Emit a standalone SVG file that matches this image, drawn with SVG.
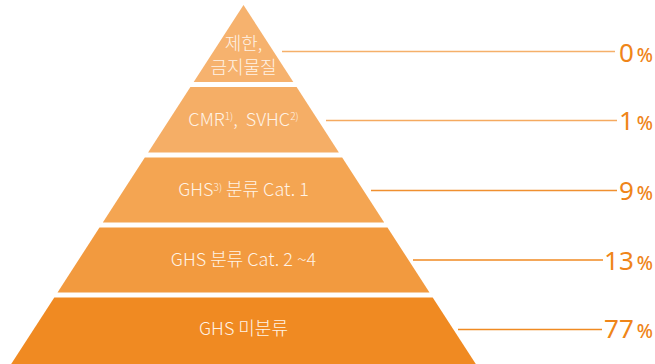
<svg xmlns="http://www.w3.org/2000/svg" width="655" height="364" viewBox="0 0 655 364">
  <style>
    .lbl { font-family: "Noto Sans CJK KR", "Noto Sans", sans-serif; font-size: 18px; font-weight: 300; fill: #FFF3E6; text-anchor: middle; }
    .sup { font-size: 10px; }
    .pct { font-family: "Noto Sans", "Liberation Sans", sans-serif; font-size: 26px; fill: #EF8519; text-anchor: end; }
    .pct tspan.p { font-size: 19px; font-weight: 500; }
    .lead { stroke-width: 1.5; fill: none; }
  </style>
  <rect width="655" height="364" fill="#ffffff"/>
  <g id="tier1">
    <polygon points="243.5,5 293.3,82 193.7,82" fill="#F6B26E"/>
    <text class="lbl" x="243.5" y="50">제한,</text>
    <text class="lbl" x="243.5" y="73.5">금지물질</text>
  </g>
  <g id="tier2">
    <polygon points="190.4,87 296.6,87 338.9,152.5 148.1,152.5" fill="#F5AE66"/>
    <text class="lbl" x="243.5" y="125.5">CMR<tspan class="sup" dy="-5.5">1)</tspan><tspan dy="5.5">,</tspan><tspan dx="8">SVHC</tspan><tspan class="sup" dy="-5.5">2)</tspan></text>
  </g>
  <g id="tier3">
    <polygon points="144.8,157.5 342.2,157.5 384.2,222.5 102.8,222.5" fill="#F4A552"/>
    <text class="lbl" x="243.5" y="196">GHS<tspan class="sup" dy="-5.5">3)</tspan><tspan dy="5.5"> 분류 Cat. 1</tspan></text>
  </g>
  <g id="tier4">
    <polygon points="99.5,227.5 387.5,227.5 429.5,292.5 57.5,292.5" fill="#F29A3F"/>
    <text class="lbl" x="243.5" y="265.5">GHS 분류 Cat. 2 ~4</text>
  </g>
  <g id="tier5">
    <polygon points="54.3,297.5 432.7,297.5 475.8,364 11.2,364" fill="#F08A22"/>
    <text class="lbl" x="243.5" y="335">GHS 미분류</text>
  </g>
  <g id="connectors">
    <line class="lead" x1="282" y1="51.5" x2="615" y2="51.5" stroke="#F5B06A"/>
    <line class="lead" x1="326" y1="120.5" x2="617" y2="120.5" stroke="#F5AA60"/>
    <line class="lead" x1="371" y1="190.5" x2="617" y2="190.5" stroke="#F09030"/>
    <line class="lead" x1="413" y1="260" x2="603" y2="260" stroke="#F08A22"/>
    <line class="lead" x1="458" y1="329.5" x2="602" y2="329.5" stroke="#F08A22"/>
  </g>
  <g id="values">
    <text class="pct" x="653" y="61.5">0<tspan class="p" dx="3">%</tspan></text>
    <text class="pct" x="653" y="130">1<tspan class="p" dx="3">%</tspan></text>
    <text class="pct" x="653" y="200">9<tspan class="p" dx="3">%</tspan></text>
    <text class="pct" x="653" y="270">13<tspan class="p" dx="3">%</tspan></text>
    <text class="pct" x="653" y="338">77<tspan class="p" dx="3">%</tspan></text>
  </g>
</svg>
